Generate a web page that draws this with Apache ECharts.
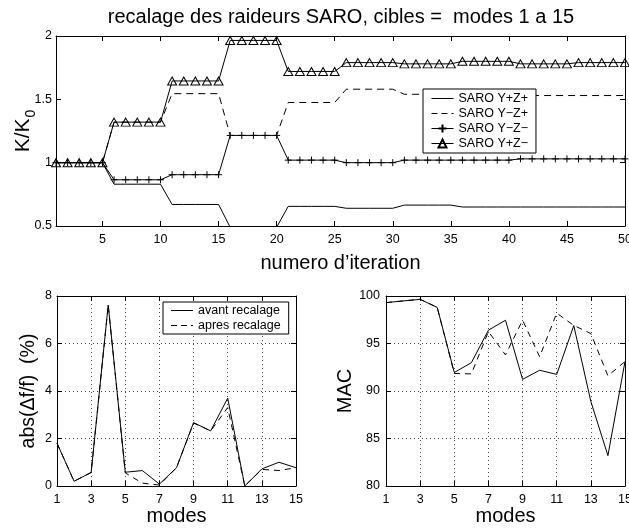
<!DOCTYPE html>
<html><head><meta charset="utf-8">
<script src="https://cdn.jsdelivr.net/npm/echarts@6/dist/echarts.min.js"></script>
<style>html,body{margin:0;padding:0;background:#fff}#c{width:629px;height:529px}</style>
</head><body><div id="c"></div>
<script>
// ---- data ----
const iterations = ['1','2','3','4','5','6','7','8','9','10','11','12','13','14','15','16','17','18','19','20',
  '21','22','23','24','25','26','27','28','29','30','31','32','33','34','35','36','37','38','39','40',
  '41','42','43','44','45','46','47','48','49','50'];
const saroYpZp = [1,1,1,1,1, 0.83,0.83,0.83,0.83,0.83, 0.67,0.67,0.67,0.67,0.67, 0.49,0.49,0.49,0.49,0.49,
  0.655,0.655,0.655,0.655,0.655, 0.64,0.64,0.64,0.64,0.64, 0.665,0.665,0.665,0.665,0.665,
  0.65,0.65,0.65,0.65,0.65, 0.65,0.65,0.65,0.65,0.65, 0.65,0.65,0.65,0.65,0.65];
const saroYmZp = [1,1,1,1,1, 1.32,1.32,1.32,1.32,1.32, 1.545,1.545,1.545,1.545,1.545, 1.215,1.215,1.215,1.215,1.215,
  1.475,1.475,1.475,1.475,1.475, 1.58,1.58,1.58,1.58,1.58, 1.54,1.54,1.54,1.54,1.54,
  1.535,1.535,1.535,1.535,1.535, 1.53,1.53,1.53,1.53,1.53, 1.53,1.53,1.53,1.53,1.53];
const saroYmZm = [1,1,1,1,1, 0.865,0.865,0.865,0.865,0.865, 0.905,0.905,0.905,0.905,0.905, 1.215,1.215,1.215,1.215,1.215,
  1.02,1.02,1.02,1.02,1.02, 1.0,1.0,1.0,1.0,1.0, 1.02,1.02,1.02,1.02,1.02,
  1.02,1.02,1.02,1.02,1.02, 1.03,1.03,1.03,1.03,1.03, 1.03,1.03,1.03,1.03,1.03];
const saroYpZm = [1,1,1,1,1, 1.32,1.32,1.32,1.32,1.32, 1.645,1.645,1.645,1.645,1.645, 1.965,1.965,1.965,1.965,1.965,
  1.72,1.72,1.72,1.72,1.72, 1.79,1.79,1.79,1.79,1.79, 1.78,1.78,1.78,1.78,1.78,
  1.80,1.80,1.80,1.80,1.80, 1.78,1.78,1.78,1.78,1.78, 1.79,1.79,1.79,1.79,1.79];
const saroNames = ['SARO Y+Z+','SARO Y\u2212Z+','SARO Y\u2212Z\u2212','SARO Y+Z\u2212'];

const modes = ['1','2','3','4','5','6','7','8','9','10','11','12','13','14','15'];
const errAvant = [1.80,0.20,0.57,7.62,0.58,0.65,0.08,0.77,2.67,2.32,3.70,0.0,0.72,1.00,0.77];
const errApres = [1.80,0.20,0.57,7.62,0.55,0.12,0.04,0.77,2.65,2.32,3.30,0.0,0.70,0.65,0.77];
const macAvant = [99.3,99.48,99.65,98.8,91.95,92.98,96.4,97.45,91.23,92.18,91.75,96.88,88.9,83.2,93.1];
const macApres = [99.3,99.48,99.65,98.8,91.85,91.8,96.25,93.8,97.45,93.6,98.2,96.9,96.05,91.6,93.1];
const cmpNames = ['avant recalage','apres recalage'];

const titleText = 'recalage des raideurs SARO, cibles =  modes 1 a 15';

// ---- chart ----
const FONT = '"Liberation Sans", Arial, Helvetica, sans-serif';
const BLK = '#000';
const every5 = (i, v) => Number(v) % 5 === 0;
const everyOther = (i) => i % 2 === 0;
const axLine = {show: true, onZero: false, lineStyle: {color: BLK, width: 1}};
const dotted = {show: true, lineStyle: {color: '#444', width: 1, type: [1, 3]}};
const solidIcon = 'path://M0,0L22,0L22,1L0,1Z';
const dashIcon = 'path://M0,0L6,0L6,1L0,1ZM10,0L16,0L16,1L10,1ZM20,0L22,0L22,1L20,1Z';

function xPair(gridIndex, data, fn, name, nameGap, grid) {
  const base = {type: 'category', gridIndex, data, boundaryGap: false, axisLine: axLine};
  return [
    Object.assign({}, base, {
      position: 'bottom',
      axisTick: {show: true, inside: true, length: 5, interval: fn, lineStyle: {color: BLK}},
      axisLabel: {show: true, interval: fn, color: BLK, fontSize: 12.5, fontFamily: FONT, margin: 7},
      splitLine: grid ? Object.assign({interval: fn}, dotted) : {show: false},
      name, nameLocation: 'middle', nameGap,
      nameTextStyle: {color: BLK, fontSize: 20, fontFamily: FONT}
    }),
    Object.assign({}, base, {
      position: 'top',
      axisTick: {show: true, inside: true, length: 5, interval: fn, lineStyle: {color: BLK}},
      axisLabel: {show: false}, splitLine: {show: false}
    })
  ];
}
function yPair(gridIndex, min, max, interval, name, nameGap, grid, margin, fontSize, rich, extra) {
  const base = {type: 'value', gridIndex, min, max, interval, axisLine: axLine};
  return [
    Object.assign({}, base, {
      position: 'left',
      axisTick: {show: true, inside: true, length: 5, lineStyle: {color: BLK}},
      axisLabel: {show: true, color: BLK, fontSize: 12.5, fontFamily: FONT, margin},
      splitLine: grid ? dotted : {show: false},
      name, nameLocation: 'middle', nameGap,
      nameTextStyle: Object.assign({color: BLK, fontSize, fontFamily: FONT}, rich ? {rich} : {})
    }, extra || {}),
    Object.assign({}, base, {
      position: 'right',
      axisTick: {show: true, inside: true, length: 5, lineStyle: {color: BLK}},
      axisLabel: {show: false}, splitLine: {show: false}
    })
  ];
}

const plusSym = 'path://M5,0L5,10M0,5L10,5';
function lineSeries(name, data, xi, yi, opts) {
  return Object.assign({
    type: 'line', name, data, xAxisIndex: xi, yAxisIndex: yi,
    symbol: 'none', showAllSymbol: true, animation: false, silent: true,
    lineStyle: {color: BLK, width: 1, type: 'solid'},
    itemStyle: {color: BLK},
    emphasis: {disabled: true}
  }, opts || {});
}
const legendCommon = {
  orient: 'vertical', backgroundColor: '#fff', borderColor: BLK, borderWidth: 1,
  itemGap: 2, itemWidth: 22, itemHeight: 10, selectedMode: false,
  lineStyle: {width: 1},
  textStyle: {color: BLK, fontSize: 12.5, fontFamily: FONT}
};

const option = {
  backgroundColor: '#fff',
  animation: false,
  textStyle: {fontFamily: FONT},
  title: {text: titleText, left: 341, top: 7, textAlign: 'center', padding: 0,
    textStyle: {color: BLK, fontSize: 20, fontWeight: 'normal', fontFamily: FONT}},
  grid: [
    {left: 56, top: 36, width: 569, height: 190, outerBoundsMode: 'none', containLabel: false},
    {left: 57, top: 296, width: 239, height: 190, outerBoundsMode: 'none', containLabel: false},
    {left: 386, top: 296, width: 239, height: 190, outerBoundsMode: 'none', containLabel: false}
  ],
  xAxis: [].concat(
    xPair(0, iterations, every5, 'numero d\u2019iteration', 27, false),
    xPair(1, modes, everyOther, 'modes', 11, true),
    xPair(2, modes, everyOther, 'modes', 11, true)
  ),
  yAxis: [].concat(
    yPair(0, 0.5, 2, 0.5, '{k|K/K}{s|0}', 18, false, 4, 21,
      {k: {fontSize: 21, fontFamily: FONT, color: BLK, verticalAlign: 'top', lineHeight: 21},
       s: {fontSize: 14, fontFamily: FONT, color: BLK, verticalAlign: 'top', padding: [11, 0, 0, 1]}},
      {nameMoveOverlap: false}),
    yPair(1, 0, 8, 2, 'abs(\u0394f/f)  (%)', 18, true, 5, 19.5),
    yPair(2, 80, 100, 5, 'MAC', 30, true, 6, 20)
  ),
  legend: [
    Object.assign({}, legendCommon, {
      left: 423, top: 89, padding: [3, 8, 3, 8],
      data: [
        {name: saroNames[0], icon: solidIcon},
        {name: saroNames[1], icon: dashIcon},
        {name: saroNames[2]},
        {name: saroNames[3]}
      ]}),
    Object.assign({}, legendCommon, {
      left: 163, top: 302, padding: [2, 8, 2, 8],
      data: [
        {name: cmpNames[0], icon: solidIcon},
        {name: cmpNames[1], icon: dashIcon}
      ]})
  ],
  series: [
    lineSeries(saroNames[0], saroYpZp, 0, 0),
    lineSeries(saroNames[1], saroYmZp, 0, 0, {lineStyle: {color: BLK, width: 1, type: [7, 5]}}),
    lineSeries(saroNames[2], saroYmZm, 0, 0, {symbol: plusSym, symbolSize: 7,
      itemStyle: {color: 'none', borderColor: BLK, borderWidth: 1}}),
    lineSeries(saroNames[3], saroYpZm, 0, 0, {symbol: 'triangle', symbolSize: [9, 8],
      itemStyle: {color: 'none', borderColor: BLK, borderWidth: 1}}),
    lineSeries(cmpNames[0], errAvant, 2, 2),
    lineSeries(cmpNames[1], errApres, 2, 2, {lineStyle: {color: BLK, width: 1, type: [6, 5]}}),
    lineSeries(cmpNames[0], macAvant, 4, 4),
    lineSeries(cmpNames[1], macApres, 4, 4, {lineStyle: {color: BLK, width: 1, type: [6, 5]}})
  ]
};
const chart = echarts.init(document.getElementById('c'), null, {renderer: 'canvas'});
chart.setOption(option);
</script>
</body></html>
